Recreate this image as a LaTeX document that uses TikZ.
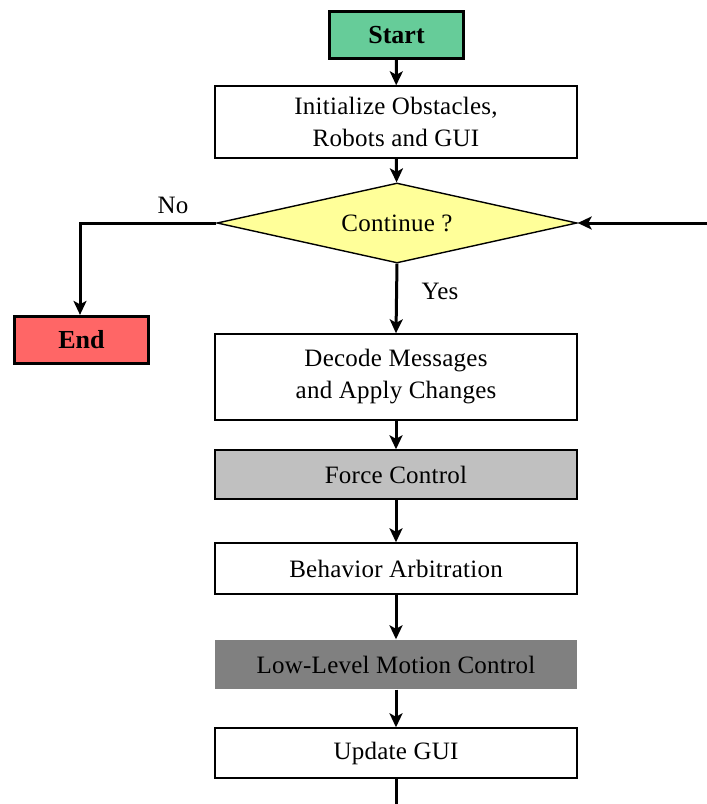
\documentclass[tikz,border=0pt]{standalone}
\usepackage{fontspec}
\setmainfont{Liberation Serif}
\usetikzlibrary{arrows.meta,shapes.geometric}
\definecolor{startgreen}{RGB}{102,204,153}
\definecolor{endred}{RGB}{255,102,102}
\definecolor{askyellow}{RGB}{255,255,153}
\definecolor{lightgray}{RGB}{192,192,192}
\definecolor{darkgray}{RGB}{128,128,128}
\tikzset{
  px/.style={x=1pt,y=-1pt},
  txt/.style={font=\fontsize{25}{32}\selectfont\addfontfeature{LetterSpace=1}},
  terminal/.style={draw=black,line width=3.2pt,minimum width=134pt,minimum height=47pt,inner sep=0pt,
    font=\fontsize{26}{30}\selectfont\bfseries},
  stepbox/.style={draw=black,line width=1.4pt,minimum width=362pt,inner sep=0pt,txt,align=center},
  flow/.style={line width=3pt,-{Stealth[length=14pt,width=13pt,inset=3.5pt]}},
  plain/.style={line width=3pt},
}
\begin{document}
\begin{tikzpicture}[px]
\useasboundingbox (0,0) rectangle (707,804);
% terminals
\node[terminal,fill=startgreen] (start) at (396.5,35) {Start};
\node[terminal,fill=endred] (end) at (81.5,340) {End};
% processing steps
\node[stepbox,minimum height=72pt,fill=white] (init) at (396,122) {Initialize Obstacles,\\Robots and GUI};
\node[draw=black,line width=1.4pt,fill=askyellow,diamond,aspect=4.5,minimum width=360pt,minimum height=80pt,inner sep=0pt,txt] (cont) at (397,223) {Continue ?};
\node[stepbox,minimum height=86pt,fill=white] (decode) at (396,377) {Decode Messages\\and Apply Changes};
\node[stepbox,minimum height=49pt,fill=lightgray] (force) at (396,474.5) {Force Control};
\node[stepbox,minimum height=51pt,fill=white] (behav) at (396,568.5) {Behavior Arbitration};
\node[stepbox,draw=none,minimum height=49pt,fill=darkgray] (motion) at (396,664.5) {Low-Level Motion Control};
\node[stepbox,minimum height=50pt,fill=white] (gui) at (396,753) {Update GUI};
% loop ends
\coordinate (loopout) at (396,804);
\coordinate (loopin) at (707,223);
\coordinate (corner) at (80,223);
% connectors
\draw[flow] (start) -- (init);
\draw[flow] (init) -- (cont);
\draw[flow] (cont.south) -- (decode.north);
\draw[flow] (decode) -- (force);
\draw[flow] (force) -- (behav);
\draw[flow] (behav) -- (motion);
\draw[flow] (motion) -- (gui);
\draw[plain] (gui.south) -- (loopout);
\draw[flow] (loopin) -- (cont.east);
\draw[flow] (cont.west) -- (corner) -- (end.north -| corner);
% branch labels
\node[txt] (nolbl) at (173,205) {No};
\node[txt] (yeslbl) at (440,291) {Yes};
\end{tikzpicture}
\end{document}
